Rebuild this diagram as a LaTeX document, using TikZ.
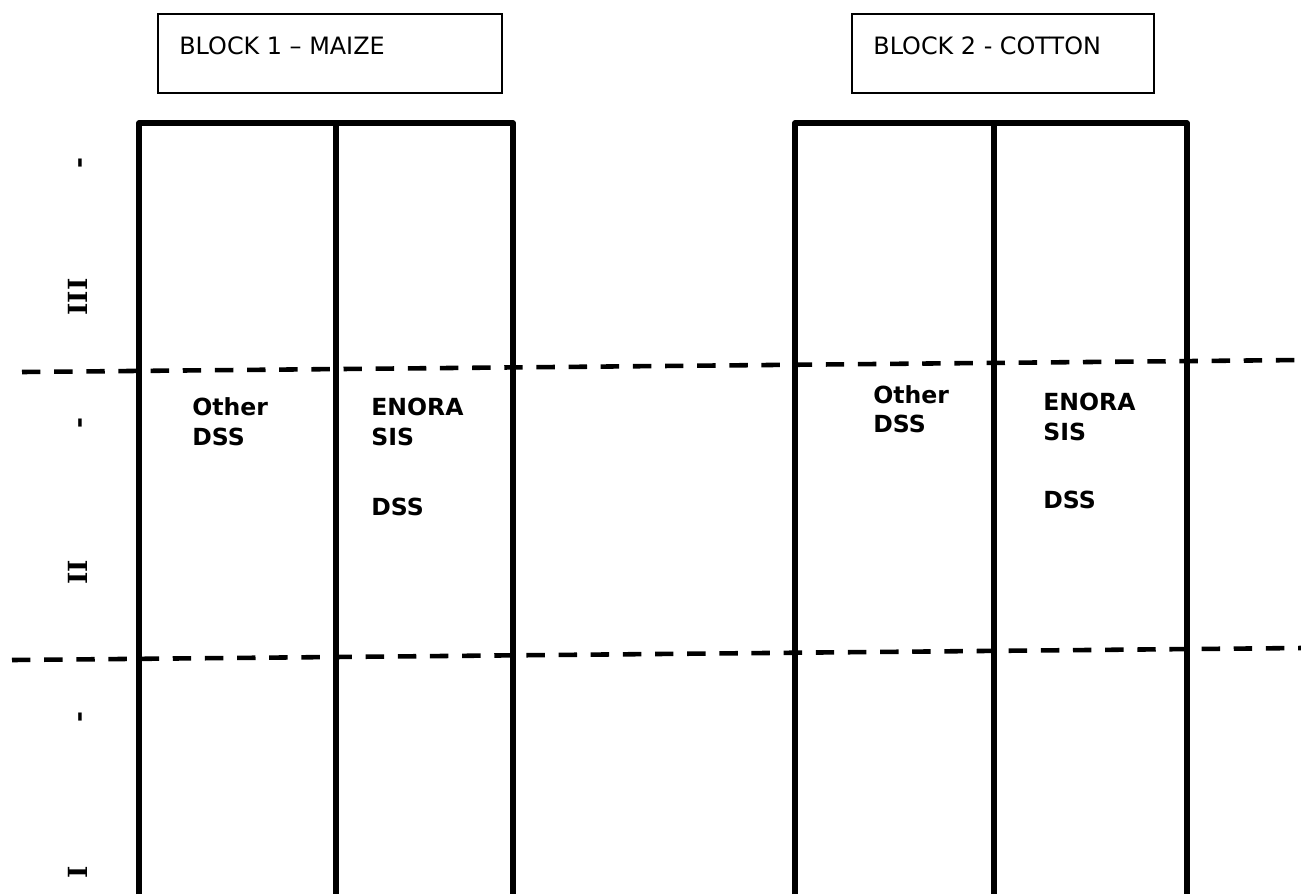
\documentclass[tikz,border=0pt]{standalone}
\usepackage{fontspec}
\setmainfont{DejaVu Sans}
\newfontfamily\romanfont{DejaVu Serif}
\begin{document}
\begin{tikzpicture}[x=0.02cm,y=-0.02cm,
    wall/.style={line width=3pt,line join=round},
    plotline/.style={line width=2.6pt,dash pattern=on 10.5pt off 7.8pt},
    titlebox/.style={draw,line width=1.1pt},
    title/.style={anchor=base west,inner sep=0pt,font=\fontsize{13.6}{16}\selectfont},
    lab/.style={anchor=base west,inner sep=0pt,font=\fontsize{13.4}{16}\selectfont\bfseries},
    rep/.style={anchor=base,inner sep=0pt,rotate=90,font=\romanfont\fontsize{15}{18}\selectfont\bfseries}]
    \useasboundingbox (0,0) rectangle (1301,894);
    % block titles
    \draw[titlebox] (158,14) rectangle (502,93);
    \node[title] (t1) at (179,54) {BLOCK 1 – MAIZE};
    \draw[titlebox] (852,14) rectangle (1154,93);
    \node[title] (t2) at (873,54) {BLOCK 2 - COTTON};
    % plots
    \draw[wall] (139,894) -- (139,123) -- (513,123) -- (513,894);
    \draw[wall] (336,123) -- (336,894);
    \draw[wall] (795,894) -- (795,123) -- (1187,123) -- (1187,894);
    \draw[wall] (994,123) -- (994,894);
    % replicate borders
    \coordinate (u1) at (22,372);
    \coordinate (u2) at (1301,360);
    \coordinate (l1) at (12,660);
    \coordinate (l2) at (1301,648);
    \draw[plotline] (u1) -- (u2);
    \draw[plotline] (l1) -- (l2);
    % replicates
    \node[rep] (d3) at (87,163) {-};
    \node[rep] (r3) at (87,297) {III};
    \node[rep] (d2) at (87,423) {-};
    \node[rep] (r2) at (87,572) {II};
    \node[rep] (d1) at (87,717) {-};
    \node[rep] (r1) at (87,872) {I};
    % treatments
    \node[lab] (o1) at (192,415) {Other};
    \node[lab] (o1b) at (192,445) {DSS};
    \node[lab] (e1) at (371,415) {ENORA};
    \node[lab] (e1b) at (371,445) {SIS};
    \node[lab] (e1c) at (371,515) {DSS};
    \node[lab] (o2) at (873,403) {Other};
    \node[lab] (o2b) at (873,432) {DSS};
    \node[lab] (e2) at (1043,410) {ENORA};
    \node[lab] (e2b) at (1043,440) {SIS};
    \node[lab] (e2c) at (1043,508) {DSS};
\end{tikzpicture}
\end{document}
